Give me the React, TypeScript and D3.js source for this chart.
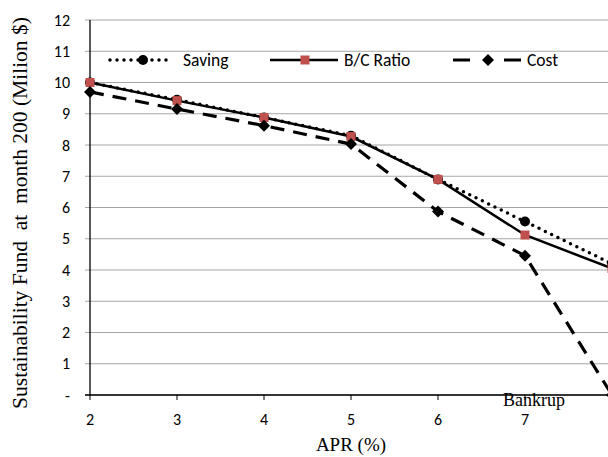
import React from "react";
import * as d3 from "d3";

const aprValues = [2, 3, 4, 5, 6, 7, 8];
const savingValues = [10.0, 9.45, 8.88, 8.3, 6.9, 5.55, 4.2];
const bcRatioValues = [10.0, 9.42, 8.88, 8.27, 6.9, 5.12, 4.05];
const costValues = [9.7, 9.15, 8.62, 8.03, 5.87, 4.46, 0.0];
const yTickValues = [0, 1, 2, 3, 4, 5, 6, 7, 8, 9, 10, 11, 12];
const xTickValues = [2, 3, 4, 5, 6, 7];
const seriesNames = ["Saving", "B/C Ratio", "Cost"];

const W = 608;
const H = 457;
const sans = "Carlito, Lato, 'Open Sans', sans-serif";
const serif = "'Liberation Serif', 'DejaVu Serif', serif";

export default function App() {
  const x = d3.scaleLinear().domain([2, 8]).range([90, 612]);
  const y = d3.scaleLinear().domain([0, 12]).range([395, 20]);
  const line = d3
    .line<[number, number]>()
    .x((d) => x(d[0]))
    .y((d) => y(d[1]));
  const pts = (vals: number[]) => aprValues.map((a, i) => [a, vals[i]] as [number, number]);
  const diamond = (cx: number, cy: number, r: number) =>
    `M${cx},${cy - r}L${cx + r},${cy}L${cx},${cy + r}L${cx - r},${cy}Z`;

  const legY = 60;
  return (
    <svg width={W} height={H} style={{ position: "absolute", left: 0, top: 0, background: "#fff" }}>
      {/* gridlines */}
      {yTickValues.map((t) => (
        <line key={"g" + t} x1={85} x2={W} y1={y(t)} y2={y(t)} stroke="#a6a6a6" strokeWidth={1.2} />
      ))}
      {/* axes */}
      <line x1={90} x2={90} y1={y(12)} y2={y(0)} stroke="#000" strokeWidth={1.3} />
      <line x1={85} x2={W} y1={y(0)} y2={y(0)} stroke="#000" strokeWidth={1.3} />
      {xTickValues.map((t) => (
        <line key={"xt" + t} x1={x(t)} x2={x(t)} y1={y(0)} y2={y(0) + 5} stroke="#000" strokeWidth={1} />
      ))}
      {yTickValues.map((t) => (
        <text key={"yl" + t} x={70} y={y(t) + 5.5} textAnchor="end" fontFamily={sans} fontSize={16} fill="#000">
          {t === 0 ? "-" : t}
        </text>
      ))}
      {xTickValues.map((t) => (
        <text key={"xl" + t} x={x(t)} y={425} textAnchor="middle" fontFamily={sans} fontSize={16} fill="#000">
          {t}
        </text>
      ))}
      <text x={351} y={451} textAnchor="middle" fontFamily={serif} fontSize={19} fill="#000">
        APR (%)
      </text>
      <text
        transform={`translate(27,213) rotate(-90)`}
        textAnchor="middle"
        fontFamily={serif}
        fontSize={21.5}
        fill="#000"
        style={{ whiteSpace: "pre" }}
      >
        {"Sustainability Fund  at  month 200 (Milion $)"}
      </text>
      <text x={534} y={406} textAnchor="middle" fontFamily={serif} fontSize={18} fill="#000">
        Bankrup
      </text>

      {/* Saving */}
      <path d={line(pts(savingValues)) || ""} fill="none" stroke="#000" strokeWidth={3.5} strokeDasharray="0 7" strokeLinecap="round" />
      {aprValues.map((a, i) => (
        <circle key={"s" + a} cx={x(a)} cy={y(savingValues[i])} r={5} fill="#000" />
      ))}
      {/* B/C Ratio */}
      <path d={line(pts(bcRatioValues)) || ""} fill="none" stroke="#000" strokeWidth={2.5} />
      {aprValues.map((a, i) => (
        <rect key={"b" + a} x={x(a) - 4.5} y={y(bcRatioValues[i]) - 4.5} width={9} height={9} fill="#c0504d" />
      ))}
      {/* Cost */}
      <path d={line(pts(costValues)) || ""} fill="none" stroke="#000" strokeWidth={3.2} strokeDasharray="14 9" />
      {aprValues.map((a, i) => (
        <path key={"c" + a} d={diamond(x(a), y(costValues[i]), 6)} fill="#000" />
      ))}

      {/* legend */}
      <g>
        <line x1={110} x2={172} y1={legY} y2={legY} stroke="#000" strokeWidth={3.5} strokeDasharray="0 7" strokeLinecap="round" />
        <circle cx={143} cy={legY} r={5} fill="#000" />
        <text x={183} y={legY + 6} fontFamily={sans} fontSize={17.5} fill="#000">{seriesNames[0]}</text>

        <line x1={270} x2={338} y1={legY} y2={legY} stroke="#000" strokeWidth={2.5} />
        <rect x={300.5} y={legY - 4.5} width={9} height={9} fill="#c0504d" />
        <text x={344} y={legY + 6} fontFamily={sans} fontSize={17.5} fill="#000">{seriesNames[1]}</text>

        <line x1={453} x2={521} y1={legY} y2={legY} stroke="#000" strokeWidth={3.2} strokeDasharray="17 34" />
        <path d={diamond(488, legY, 6)} fill="#000" />
        <text x={527} y={legY + 6} fontFamily={sans} fontSize={17.5} fill="#000">{seriesNames[2]}</text>
      </g>
    </svg>
  );
}
